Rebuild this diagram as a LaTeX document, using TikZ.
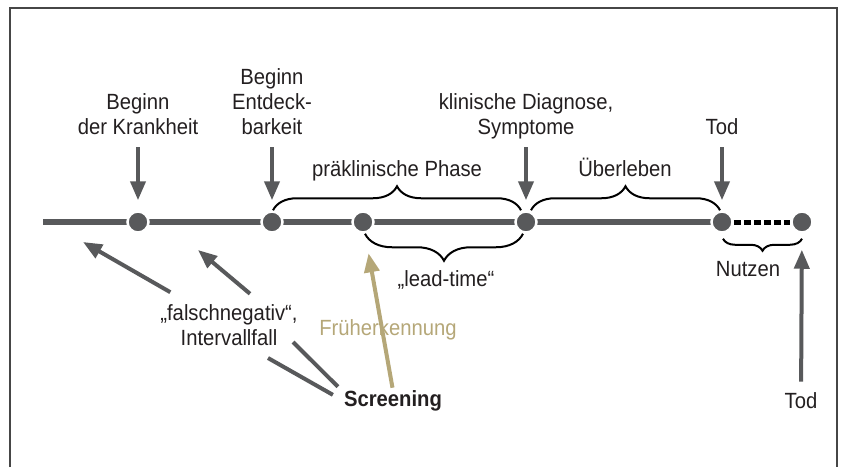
\documentclass[tikz,border=0pt]{standalone}
\usepackage{fontspec}
\setmainfont{Liberation Sans}[FakeStretch=0.92]
\usetikzlibrary{arrows.meta,positioning,decorations.pathreplacing}
\definecolor{linegray}{RGB}{88,89,91}
\definecolor{gold}{RGB}{181,167,120}
\definecolor{txt}{RGB}{35,31,32}
\definecolor{framegray}{RGB}{70,70,70}

\begin{document}
\begin{tikzpicture}[
            x=1pt, y=-1pt,
            font=\fontsize{22}{25}\selectfont,
            lbl/.style={inner sep=0pt, text depth=0pt, anchor=south, align=center, text=txt},
            dot/.style={circle, fill=linegray, draw=white, line width=2.5pt, minimum size=21pt, inner sep=0pt},
            tline/.style={linegray, line width=6pt},
            darrow/.style={-{Triangle[length=19pt,width=15pt]}, linegray, line width=4pt},
            garrow/.style={darrow, gold},
            gline/.style={linegray, line width=4pt},
            brc/.style={decorate, decoration={brace, amplitude=#1}, line width=2pt, black},
            mbrc/.style={decorate, decoration={brace, mirror, amplitude=#1}, line width=2pt, black},
            dashline/.style={black, line width=5pt, dash pattern=on 7pt off 3pt}
        ]
            \useasboundingbox (0,0) rectangle (842,467);
            % Frame
            \draw[framegray, line width=1.5pt] (10,467) -- (10,8) -- (837,8) -- (837,467);
            
            % Timeline
            \coordinate (start) at (43,222);
            \coordinate (tend) at (722,222);
            \draw[tline] (start) -- (tend);
            \node[dot] (d1) at (138,222) {};
            \node[dot] (d2) at (272,222) {};
            \node[dot] (d3) at (363,222) {};
            \node[dot] (d4) at (526,222) {};
            \node[dot] (d5) at (722,222) {};
            \node[dot] (d6) at (802,222) {};
            \draw[dashline] (d5) -- (d6);
            
            % Events above
            \node[lbl, above=76pt of d1] (krank) {Beginn\\der Krankheit};
            \node[lbl, above=76pt of d2] (entdeck) {Beginn\\Entdeck-\\barkeit};
            \node[lbl, above=76pt of d4] (diagnose) {klinische Diagnose,\\Symptome};
            \node[lbl, above=76pt of d5] (tod) {Tod};
            \draw[darrow, shorten <=13pt, shorten >=10pt] (krank) -- (d1);
            \draw[darrow, shorten <=13pt, shorten >=10pt] (entdeck) -- (d2);
            \draw[darrow, shorten <=13pt, shorten >=10pt] (diagnose) -- (d4);
            \draw[darrow, shorten <=13pt, shorten >=10pt] (tod) -- (d5);
            
            % Phases
            \node[lbl] (phase) at (397,177) {präklinische Phase};
            \node[lbl] (ueberleben) at (625,177) {Überleben};
            \node[lbl] (leadtime) at (446,287) {„lead-time“};
            \node[lbl] (nutzen) at (748,277) {Nutzen};
            \draw[brc=24pt] ([xshift=1pt]d2.north) -- ([xshift=-5pt]d4.north);
            \draw[brc=24pt] ([xshift=5pt]d4.north) -- ([xshift=-2pt]d5.north);
            \draw[mbrc=27pt] ([xshift=2pt]d3.south) -- ([xshift=-3pt]d4.south);
            \draw[mbrc=12pt] ([xshift=1pt,yshift=-5pt]d5.south) -- ([yshift=-5pt]d6.south);
            
            % Screening
            \node[lbl, font=\fontsize{22}{25}\selectfont\bfseries] (screen) at (393,407) {Screening};
            \node[lbl] (falsch) at (229,346) {„falschnegativ“,\\Intervallfall};
            \node[lbl, text=gold] (frueh) at (388,336) {Früherkennung};
            \node[lbl] (tod2) at (801,409) {Tod};
            \coordinate (fn1) at (83,242);
            \coordinate (fn2) at (198,250);
            \draw[darrow, shorten <=25pt] ([xshift=-37pt]falsch.north) -- (fn1);
            \draw[darrow, shorten <=17pt] ([xshift=34pt]falsch.north) -- (fn2);
            \draw[gline] ([xshift=-11pt,yshift=4pt]screen.west) -- ([xshift=39pt,yshift=-12pt]falsch.south);
            \draw[gline] ([xshift=-6pt,yshift=4pt]screen.north west) -- ([xshift=64pt,yshift=4pt]falsch.south);
            \draw[garrow, shorten <=3pt, shorten >=20pt] (screen.north) -- (d3);
            \draw[darrow, shorten <=11pt, shorten >=16pt] (tod2) -- (d6);
        \end{tikzpicture}
\end{document}
